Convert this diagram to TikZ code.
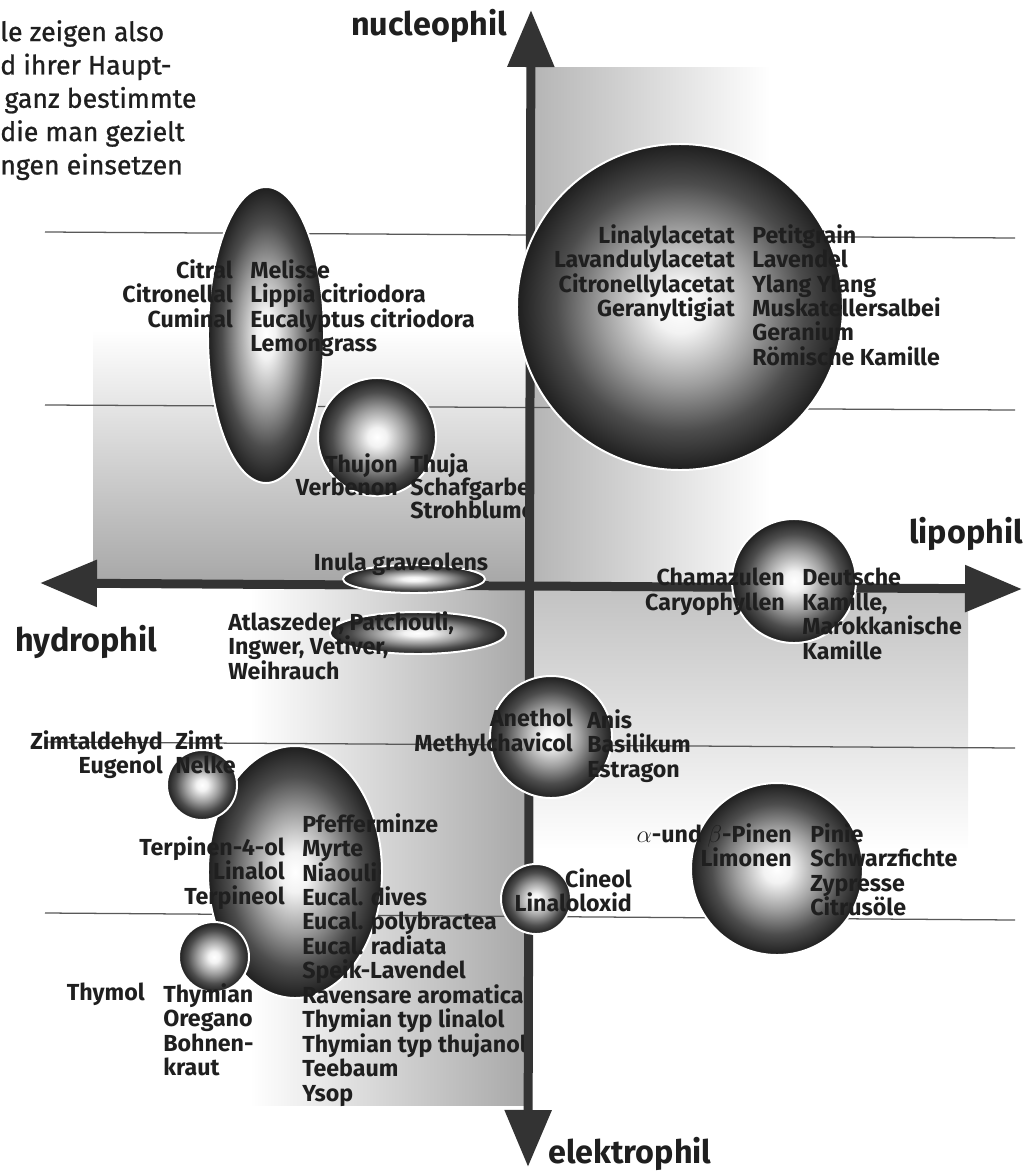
\documentclass[tikz,border=0pt]{standalone}
\usepackage{fontspec}
\setmainfont{Fira Sans}
\newfontfamily\introfont{Fira Sans}[FakeBold=0.9]
\usetikzlibrary{arrows.meta,shapes.geometric}

\definecolor{axisgray}{gray}{0.2}
\definecolor{quadgray}{gray}{0.66}
\definecolor{rulegray}{gray}{0.35}
\definecolor{inkblack}{gray}{0.12}

\pgfdeclareradialshading{bubbleshade}{\pgfpoint{0bp}{0bp}}{%
  color(0bp)=(white); color(4bp)=(black!5); color(12bp)=(black!38);
  color(19bp)=(black!70); color(25bp)=(black!88); color(50bp)=(black!88)}

\tikzset{
  bubble/.style      = {shade, shading=bubbleshade, draw=white, line width=1.4pt, inner sep=0pt},
  ball/.style        = {bubble, circle, minimum size=#1*0.025cm},
  oval/.style 2 args = {bubble, ellipse, minimum width=#1*0.025cm, minimum height=#2*0.025cm},
  oillabel/.style    = {font={\fontsize{16.5}{17.4}\selectfont\bfseries}, text=inkblack, inner sep=0pt},
  closerows/.style   = {font={\fontsize{16.5}{#1}\selectfont\bfseries}},
  leftcol/.style     = {oillabel, align=right, anchor=north east},
  rightcol/.style    = {oillabel, align=left, anchor=north west},
  axislabel/.style   = {font={\fontsize{23}{27}\selectfont\bfseries}, text=inkblack, inner sep=0pt},
  introtext/.style   = {font={\fontsize{19}{23.7}\selectfont\introfont}, text=inkblack, inner sep=0pt, align=left},
  axisbar/.style     = {axisgray, line width=6.4pt,
                        {Triangle[length=1.425cm,width=1.125cm]}-{Triangle[length=1.425cm,width=1.125cm]}},
  guide/.style       = {rulegray, line width=0.9pt}
}

\begin{document}
\begin{tikzpicture}[x=0.025cm, y=-0.025cm]
  \useasboundingbox (0,0) rectangle (1032,1171);

  % grey quadrants
  \shade[top color=white, bottom color=quadgray] (93,330) rectangle (526,580);
  \shade[left color=quadgray!85, right color=white] (534,67) rectangle (770,584);
  \shade[top color=quadgray!70, bottom color=white] (534,590) rectangle (968,850);
  \shade[left color=white, right color=quadgray] (250,590) rectangle (526,1105);

  % thin guide lines
  \draw[guide] (45,232) -- (1015,238);
  \draw[guide] (45,405) -- (1015,410);
  \draw[guide] (45,742) -- (1015,748);
  \draw[guide] (45,913) -- (1015,920);

  \node[introtext, anchor=north west] (intro) at (0,20)
    {le zeigen also\\d ihrer Haupt-\\\hspace*{3pt}ganz bestimmte\\die man gezielt\\ngen einsetzen};

  % bubbles behind the axes
  \node[oval={116}{296}] (citralegg) at (266,335) {};
  \node[ball=118] (thujonball) at (377,437) {};
  \node[oval={176}{42}] (atlasoval) at (418,633) {};
  \node[oval={174}{252}] (mintegg) at (295,872) {};
  \node[ball=70] (zimtball) at (202,785) {};
  \node[ball=70] (thymolball) at (214,957) {};
  \node[ball=172] (pinenball) at (777,869) {};

  \node[leftcol] (citral) at (233,259) {Citral\\Citronellal\\Cuminal};
  \node[rightcol] (melisse) at (250,259) {Melisse\\Lippia citriodora\\Eucalyptus citriodora\\Lemongrass};
  \node[leftcol, closerows=16.4] (thujon) at (398,453) {Thujon\\Verbenon};
  \node[rightcol, closerows=16.4] (thuja) at (410,453) {Thuja\\Schafgarbe\\Strohblume};
  \node[rightcol, closerows=14.9] (atlas) at (228,611) {Atlaszeder, Patchouli,\\Ingwer, Vetiver,\\Weihrauch};
  \node[leftcol] (zimtaldehyd) at (163,730) {Zimtaldehyd\\Eugenol};
  \node[rightcol] (zimt) at (175,730) {Zimt\\Nelke};
  \node[leftcol] (terpinenol) at (285,836) {Terpinen-4-ol\\Linalol\\Terpineol};
  \node[rightcol] (pfefferminze) at (302,813) {Pfefferminze\\Myrte\\Niaouli\\Eucal. dives\\Eucal. polybractea\\Eucal. radiata\\Speik-Lavendel\\Ravensare aromatica\\Thymian typ linalol\\Thymian typ thujanol\\Teebaum\\Ysop};
  \node[leftcol] (thymol) at (145,983) {Thymol};
  \node[rightcol] (thymian) at (163,983) {Thymian\\Oregano\\Bohnen-\\kraut};
  \node[leftcol] (pinen) at (792,823) {$\alpha$-und $\beta$-Pinen\\Limonen};
  \node[rightcol] (pinie) at (810,823) {Pinie\\Schwarzfichte\\Zypresse\\Citrusöle};

  % axes
  \coordinate (nuc) at (531,10);
  \coordinate (ele) at (528,1167);
  \coordinate (hyd) at (40,583);
  \coordinate (lip) at (1022,589);
  \draw[axisbar] (ele) -- (nuc);
  \draw[axisbar] (hyd) -- (lip);

  % bubbles lying over the axes
  \node[ball=326] (linalylball) at (680,307) {};
  \node[oval={142}{28}] (inulaoval) at (414,579) {};
  \node[ball=124] (chamaball) at (794,581) {};
  \node[ball=122] (anetholball) at (551,737) {};
  \node[ball=70] (cineolball) at (536,899) {};

  \node[leftcol] (linalyl) at (735,224) {Linalylacetat\\Lavandulylacetat\\Citronellylacetat\\Geranyltigiat};
  \node[rightcol] (petitgrain) at (752,224) {Petitgrain\\Lavendel\\Ylang Ylang\\Muskatellersalbei\\Geranium\\Römische Kamille};
  \node[oillabel, anchor=north] (inula) at (401,553) {Inula graveolens};
  \node[leftcol] (chamazulen) at (785,568) {Chamazulen\\Caryophyllen};
  \node[rightcol] (kamille) at (802,568) {Deutsche\\Kamille,\\Marokkanische\\Kamille};
  \node[leftcol] (anethol) at (573,709) {Anethol\\Methylchavicol};
  \node[rightcol] (anis) at (587,709) {Anis\\Basilikum\\Estragon};
  \node[leftcol] (cineol) at (632,868) {Cineol\\Linaloloxid};

  \node[axislabel, anchor=base east] (nucleo) at (507,35) {nucleophil};
  \node[axislabel, anchor=base west] (hydro) at (15,651) {hydrophil};
  \node[axislabel, anchor=base east] (lipo) at (1023,543) {lipophil};
  \node[axislabel, anchor=base west] (elektro) at (548,1163) {elektrophil};
\end{tikzpicture}
\end{document}
